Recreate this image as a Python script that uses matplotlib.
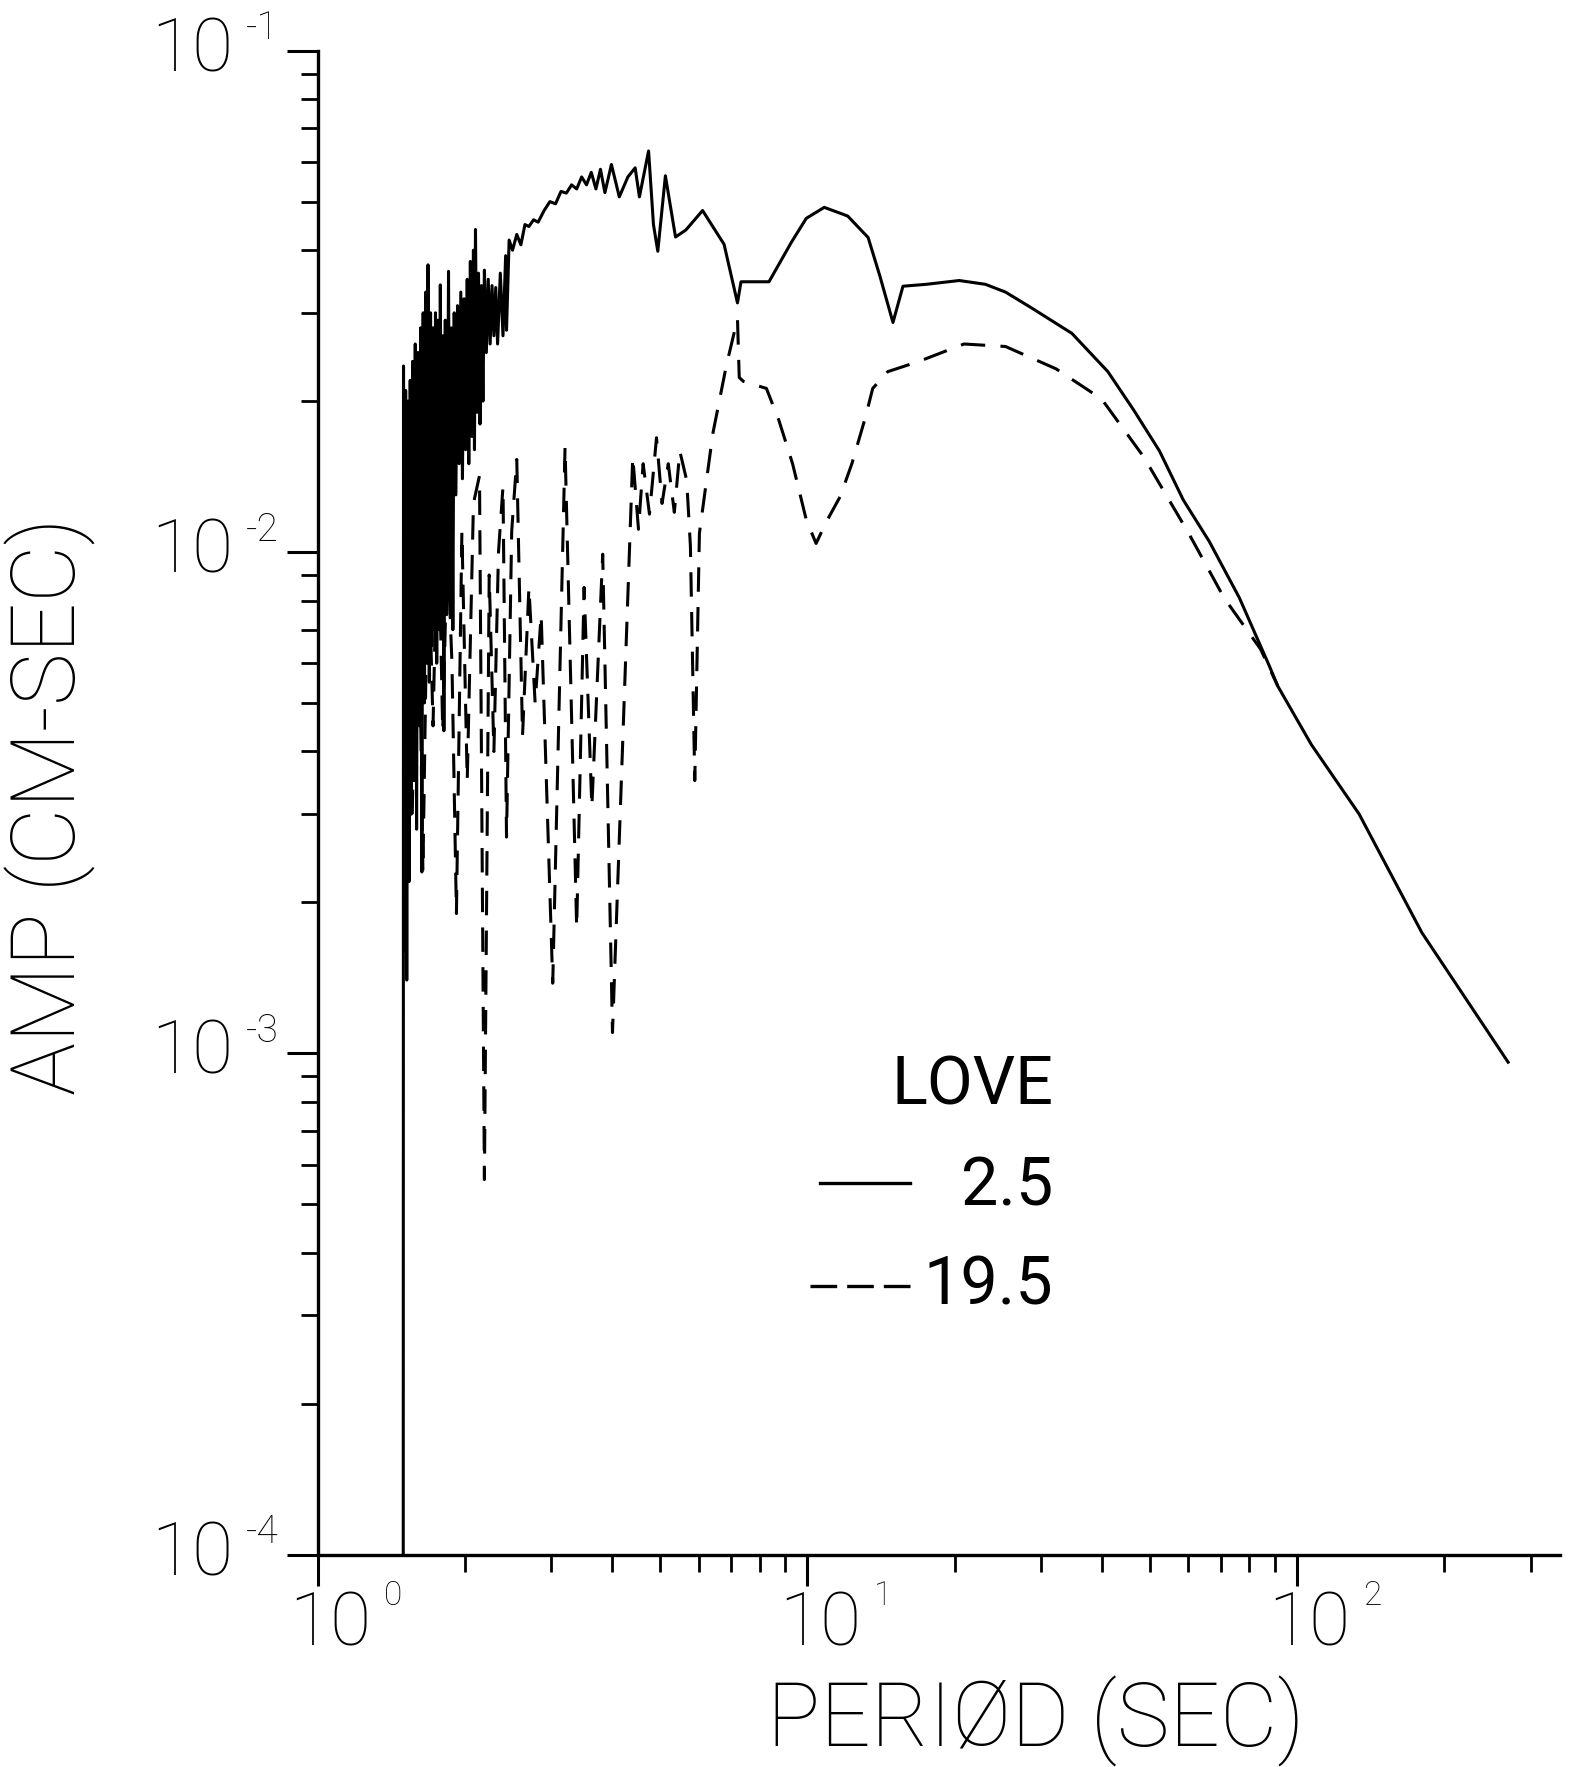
import numpy as np
import matplotlib
matplotlib.use("Agg")
import matplotlib.pyplot as plt
from matplotlib.ticker import LogLocator, NullFormatter

# LOVE wave amplitude spectra, source depth 2.5 (solid) and 19.5 (dashed)
love25_period = [
    1.495, 1.497, 1.505, 1.512, 1.520, 1.528, 1.536, 1.545, 1.553,
    1.562, 1.572, 1.582, 1.592, 1.602, 1.612, 1.622, 1.632, 1.642, 1.652,
    1.662, 1.672, 1.680, 1.690, 1.700, 1.710, 1.720, 1.730, 1.740, 1.750,
    1.760, 1.770, 1.780, 1.790, 1.800, 1.810, 1.822, 1.834, 1.850, 1.862,
    1.875, 1.888,
    1.900, 1.915, 1.930, 1.945, 1.960, 1.975, 1.990, 2.005, 2.020, 2.035,
    2.050, 2.065, 2.080, 2.090, 2.100, 2.115, 2.130, 2.145, 2.160, 2.175,
    2.190, 2.210, 2.230, 2.250, 2.270, 2.290, 2.310, 2.330, 2.360, 2.390,
    2.420, 2.430, 2.460,
    2.50, 2.55, 2.60, 2.65, 2.70, 2.76, 2.82, 2.90, 2.98, 3.06,
    3.14, 3.22, 3.30, 3.38, 3.46, 3.54, 3.62, 3.70, 3.78, 3.86,
    3.98, 4.13, 4.30, 4.45, 4.54, 4.74, 4.85, 4.95, 5.13, 5.38,
    5.65, 6.11, 6.76, 7.20, 7.32, 8.35, 9.28, 9.95, 10.83, 12.09,
    13.31, 14.07, 14.96, 15.68, 17.50, 20.43, 23.10, 25.40, 28.68, 34.70,
    41.10, 46.40, 52.40, 58.60, 66.20, 76.30, 88.00, 91.40, 107.0, 134.0,
    180.0, 270.0,
]
love25_amp = [
    8e-5, 0.0235, 0.0016, 0.021, 0.0014, 0.020, 0.0022, 0.022, 0.0030,
    0.024, 0.0035, 0.026, 0.0028, 0.025, 0.0045, 0.028, 0.0023, 0.030, 0.0050,
    0.033, 0.0060, 0.0374, 0.0055, 0.030, 0.0065, 0.028, 0.0070, 0.030, 0.0060,
    0.029, 0.0070, 0.0341, 0.0072, 0.027, 0.0044, 0.029, 0.0075, 0.0363, 0.0080,
    0.028, 0.0070,
    0.030, 0.013, 0.031, 0.015, 0.033, 0.014, 0.032, 0.016, 0.035, 0.015,
    0.038, 0.017, 0.040, 0.016, 0.044, 0.019, 0.036, 0.018, 0.034, 0.020,
    0.0365, 0.025, 0.035, 0.026, 0.034, 0.027, 0.0337, 0.026, 0.036, 0.027,
    0.039, 0.0277, 0.0419,
    0.040, 0.043, 0.041, 0.045, 0.0446, 0.046, 0.0455, 0.048, 0.050, 0.0495,
    0.0524, 0.052, 0.054, 0.053, 0.056, 0.054, 0.0572, 0.053, 0.058, 0.0521,
    0.0593, 0.0511, 0.056, 0.0584, 0.0511, 0.0631, 0.045, 0.0398, 0.0563, 0.0425,
    0.0439, 0.048, 0.0411, 0.0314, 0.0346, 0.0346, 0.0415, 0.0463, 0.0487, 0.0468,
    0.0424, 0.0355, 0.0287, 0.0339, 0.0342, 0.0348, 0.0342, 0.0330, 0.0307, 0.0273,
    0.0229, 0.0192, 0.0159, 0.0127, 0.0105, 0.0081, 0.0059, 0.0054, 0.00413, 0.0030,
    0.00174, 0.00096,
]

love195_period = [
    1.56, 1.60, 1.64, 1.68, 1.72, 1.76, 1.80, 1.84, 1.88, 1.92,
    1.97, 2.02, 2.08, 2.14, 2.19, 2.24, 2.29, 2.34, 2.39, 2.43,
    2.49, 2.55, 2.62, 2.70, 2.78, 2.86, 3.02, 3.20, 3.38, 3.50,
    3.63, 3.82, 4.00, 4.40, 4.52, 4.62, 4.76, 4.92, 5.05, 5.20,
    5.35, 5.49, 5.67, 5.77, 5.89, 6.02, 6.41, 6.83, 7.20, 7.26,
    7.40, 8.25, 8.75, 9.33, 9.95, 10.42, 10.94, 11.67, 12.33, 13.15,
    13.60, 14.60, 16.90, 20.90, 25.40, 32.20, 39.90, 48.60, 60.10, 71.00,
    84.30, 91.40,
]
love195_amp = [
    0.0030, 0.0120, 0.0023, 0.0110, 0.0045, 0.0130, 0.0044, 0.0105, 0.0060, 0.0019,
    0.0110, 0.0035, 0.0125, 0.0142, 0.00056, 0.0090, 0.0040, 0.0100, 0.0135, 0.0027,
    0.0110, 0.0153, 0.0043, 0.0085, 0.0050, 0.0075, 0.00138, 0.0162, 0.00178, 0.0085,
    0.0031, 0.0099, 0.0011, 0.0155, 0.0111, 0.0150, 0.0119, 0.0169, 0.0125, 0.0150,
    0.0120, 0.0159, 0.0139, 0.0103, 0.0035, 0.0109, 0.0172, 0.0235, 0.0292, 0.0223,
    0.0219, 0.0212, 0.0183, 0.0150, 0.0116, 0.0104, 0.0115, 0.0129, 0.0150, 0.0186,
    0.0212, 0.0229, 0.0240, 0.0260, 0.0257, 0.0232, 0.0202, 0.0155, 0.0109, 0.0081,
    0.0064, 0.0054,
]

x_decades = [1, 10, 100]
x_exponents = ["0", "1", "2"]
y_decades = [1e-4, 1e-3, 1e-2, 1e-1]
y_exponents = ["-4", "-3", "-2", "-1"]

legend_title = "LOVE"
legend_labels = ["2.5", "19.5"]

FONT = ["Roboto", "DejaVu Sans"]


def main():
    fig = plt.figure(figsize=(15.76, 17.67), dpi=100)
    ax = fig.add_axes([0.2016, 0.1202, 0.7884, 0.8511])

    ax.plot(love25_period, love25_amp, color="black", lw=2.2)
    ax.plot(love195_period, love195_amp, color="black", lw=2.2,
            linestyle=(0, (8, 5)))

    ax.set_xscale("log")
    ax.set_yscale("log")
    ax.set_xlim(1, 345)
    ax.set_ylim(1e-4, 1e-1)

    for side in ["top", "right"]:
        ax.spines[side].set_visible(False)
    for side in ["left", "bottom"]:
        ax.spines[side].set_linewidth(2.4)

    ax.xaxis.set_major_locator(LogLocator(base=10))
    ax.xaxis.set_minor_locator(LogLocator(base=10, subs=np.arange(2, 10)))
    ax.yaxis.set_major_locator(LogLocator(base=10))
    ax.yaxis.set_minor_locator(LogLocator(base=10, subs=np.arange(2, 10)))
    for axis in [ax.xaxis, ax.yaxis]:
        axis.set_major_formatter(NullFormatter())
        axis.set_minor_formatter(NullFormatter())
    ax.tick_params(which="major", direction="out", length=22, width=2.2)
    ax.tick_params(which="minor", direction="out", length=12, width=2.0)

    # tick labels drawn as "10" with a small raised exponent
    for val, ex in zip(y_decades, y_exponents):
        ax.annotate("10", xy=(0, val), xycoords=("axes fraction", "data"),
                    xytext=(-61, 0), textcoords="offset points",
                    ha="right", va="center", fontsize=54, family=FONT,
                    weight="light", annotation_clip=False)
        ax.annotate(ex, xy=(0, val), xycoords=("axes fraction", "data"),
                    xytext=(-52, 16), textcoords="offset points",
                    ha="left", va="center", fontsize=28, family=FONT,
                    weight="light", annotation_clip=False)
    for val, ex in zip(x_decades, x_exponents):
        ax.annotate("10", xy=(val, 0), xycoords=("data", "axes fraction"),
                    xytext=(9, -51), textcoords="offset points",
                    ha="center", va="center", fontsize=54, family=FONT,
                    weight="light", annotation_clip=False)
        ax.annotate(ex, xy=(val, 0), xycoords=("data", "axes fraction"),
                    xytext=(48, -30), textcoords="offset points",
                    ha="left", va="center", fontsize=24, family=FONT,
                    weight="light", annotation_clip=False)

    fig.text(0.0317, 0.544, "AMP (CM-SEC)", rotation=90, ha="center",
             va="center", fontsize=64, family=FONT, weight="light")
    fig.text(0.657, 0.026, "PERIØD (SEC)", ha="center", va="center",
             fontsize=64, family=FONT, weight="light")

    # legend block
    ax.text(0.592, 0.311, legend_title, transform=ax.transAxes, ha="right",
            va="center", fontsize=48, family=FONT)
    ax.plot([0.404, 0.477], [0.247, 0.247], transform=ax.transAxes,
            color="black", lw=2.4)
    ax.text(0.592, 0.244, legend_labels[0], transform=ax.transAxes, ha="right",
            va="center", fontsize=48, family=FONT)
    ax.plot([0.396, 0.477], [0.1786, 0.1786], transform=ax.transAxes,
            color="black", lw=2.4, linestyle=(0, (8, 3)))
    ax.text(0.592, 0.178, legend_labels[1], transform=ax.transAxes, ha="right",
            va="center", fontsize=48, family=FONT)

    fig.savefig("out.png", dpi=100, facecolor="white")


if __name__ == "__main__":
    main()
